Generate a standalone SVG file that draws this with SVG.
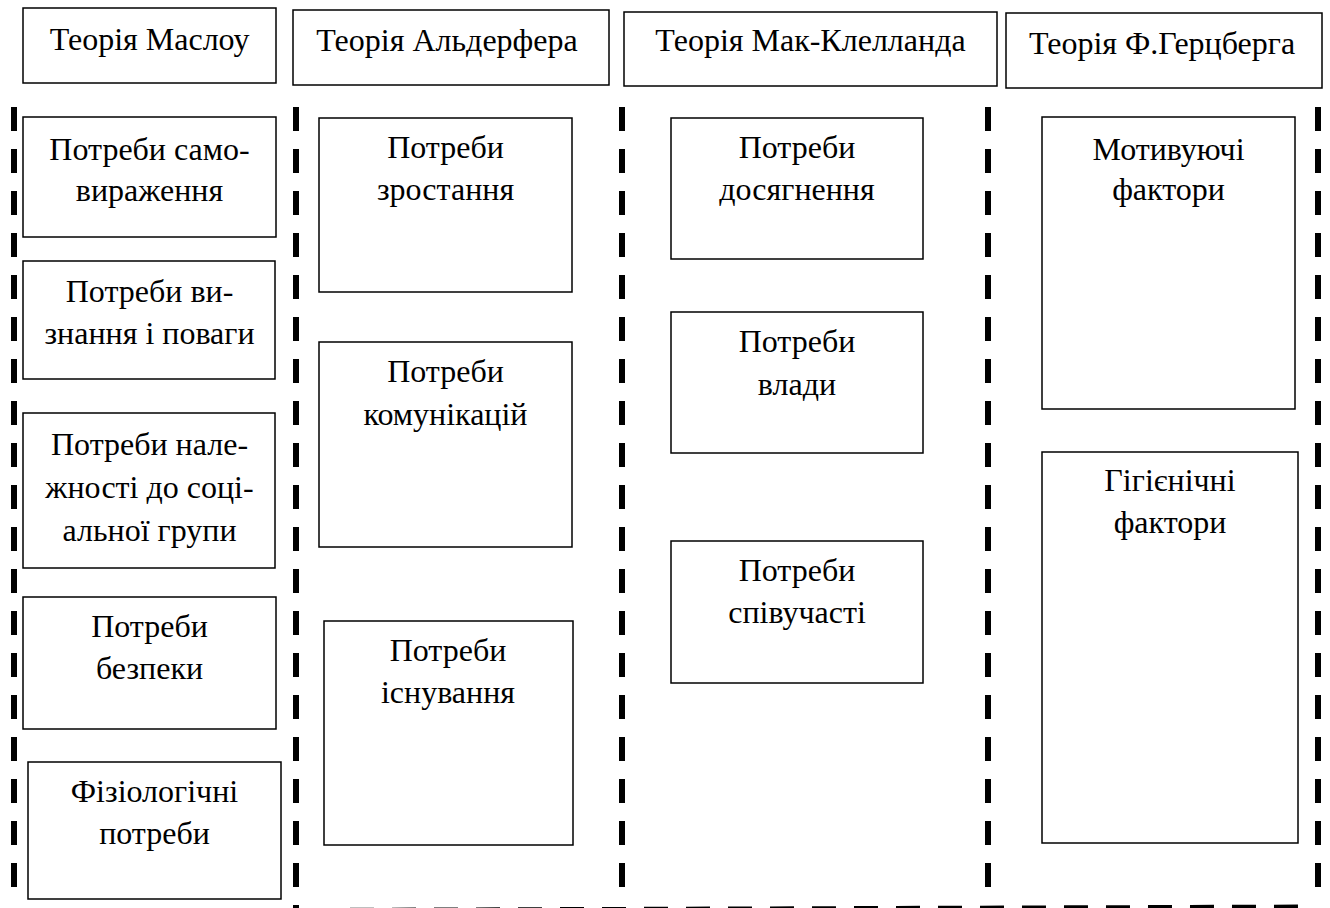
<svg xmlns="http://www.w3.org/2000/svg" width="1330" height="908" viewBox="0 0 1330 908">
<style>
.box{fill:#fff;stroke:#000;stroke-width:1.5}
.t{font-family:"Liberation Serif","Times New Roman",serif;font-size:32px;fill:#000;text-anchor:middle}
.dash{stroke:#000;stroke-width:6;stroke-dasharray:24 18;fill:none}
</style>
<g id="connectors">
<line class="dash" x1="14" y1="107" x2="14" y2="887"/>
<line class="dash" x1="296" y1="107" x2="296" y2="908"/>
<line class="dash" x1="622" y1="107" x2="622" y2="887"/>
<line class="dash" x1="988" y1="107" x2="988" y2="887"/>
<line class="dash" x1="1318" y1="107" x2="1318" y2="887"/>
<line class="dash" x1="308" y1="911" x2="1310" y2="907.5"/>
</g>
<g id="h1"><rect class="box" x="23" y="8" width="253" height="75"/><text class="t" x="149.5" y="50">Теорія Маслоу</text></g>
<g id="h2"><rect class="box" x="293" y="10" width="316" height="75"/><text class="t" x="447" y="51">Теорія Альдерфера</text></g>
<g id="h3"><rect class="box" x="624" y="12" width="373" height="74"/><text class="t" x="810.5" y="51">Теорія Мак-Клелланда</text></g>
<g id="h4"><rect class="box" x="1006" y="13" width="316" height="75"/><text class="t" x="1162" y="54">Теорія Ф.Герцберга</text></g>

<g id="m1"><rect class="box" x="23" y="117" width="253" height="120"/><text class="t" x="149.5" y="160">Потреби само-</text><text class="t" x="149.5" y="201">вираження</text></g>
<g id="m2"><rect class="box" x="23" y="261" width="252" height="118"/><text class="t" x="149.5" y="302">Потреби ви-</text><text class="t" x="149.5" y="344">знання і поваги</text></g>
<g id="m3"><rect class="box" x="23" y="413" width="252" height="155"/><text class="t" x="149.5" y="455">Потреби нале-</text><text class="t" x="149.5" y="498">жності до соці-</text><text class="t" x="149.5" y="541">альної групи</text></g>
<g id="m4"><rect class="box" x="23" y="597" width="253" height="132"/><text class="t" x="149.5" y="637">Потреби</text><text class="t" x="149.5" y="679">безпеки</text></g>
<g id="m5"><rect class="box" x="28" y="762" width="253" height="137"/><text class="t" x="154.5" y="802">Фізіологічні</text><text class="t" x="154.5" y="844">потреби</text></g>

<g id="a1"><rect class="box" x="319" y="118" width="253" height="174"/><text class="t" x="445.5" y="158">Потреби</text><text class="t" x="445.5" y="200">зростання</text></g>
<g id="a2"><rect class="box" x="319" y="342" width="253" height="205"/><text class="t" x="445.5" y="382">Потреби</text><text class="t" x="445.5" y="425">комунікацій</text></g>
<g id="a3"><rect class="box" x="324" y="621" width="249" height="224"/><text class="t" x="448" y="661">Потреби</text><text class="t" x="448" y="703">існування</text></g>

<g id="c1"><rect class="box" x="671" y="118" width="252" height="141"/><text class="t" x="797" y="158">Потреби</text><text class="t" x="797" y="200">досягнення</text></g>
<g id="c2"><rect class="box" x="671" y="312" width="252" height="141"/><text class="t" x="797" y="352">Потреби</text><text class="t" x="797" y="395">влади</text></g>
<g id="c3"><rect class="box" x="671" y="541" width="252" height="142"/><text class="t" x="797" y="581">Потреби</text><text class="t" x="797" y="623">співучасті</text></g>

<g id="g1"><rect class="box" x="1042" y="117" width="253" height="292"/><text class="t" x="1168.5" y="160">Мотивуючі</text><text class="t" x="1168.5" y="200">фактори</text></g>
<g id="g2"><rect class="box" x="1042" y="452" width="256" height="391"/><text class="t" x="1170" y="491">Гігієнічні</text><text class="t" x="1170" y="533">фактори</text></g>
</svg>
